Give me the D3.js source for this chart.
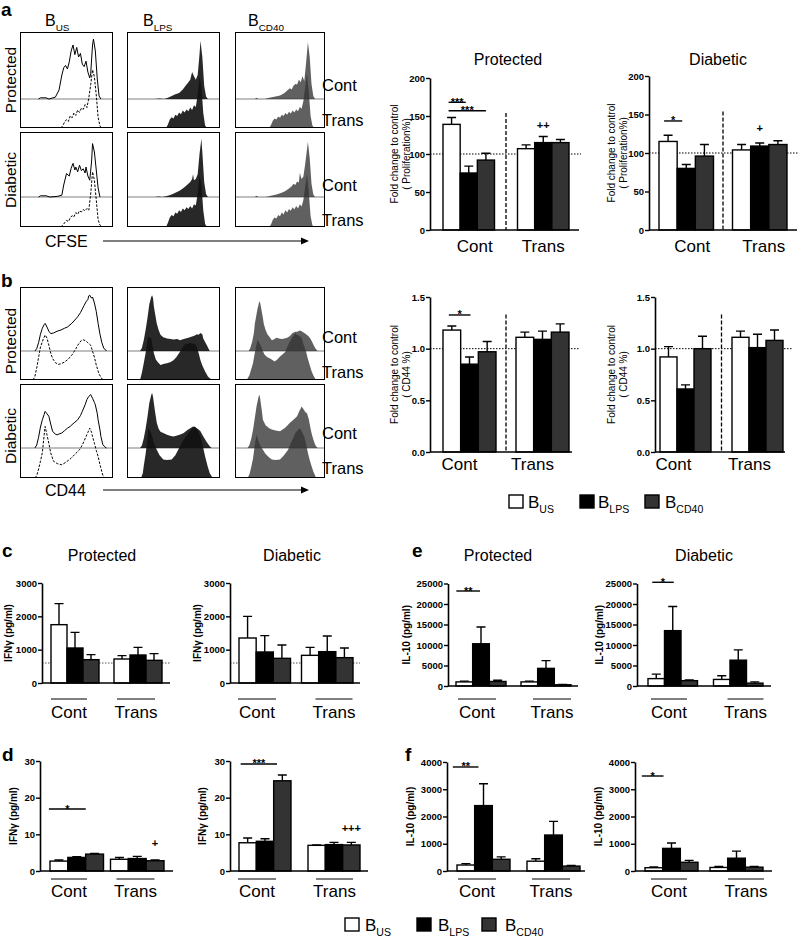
<!DOCTYPE html>
<html lang="en">
<head>
<meta charset="UTF-8">
<title>B cell proliferation, CD44 and cytokines</title>
<script src="https://cdnjs.cloudflare.com/ajax/libs/d3/7.8.5/d3.min.js"></script>
<style>
  body { margin: 0; background: #fff; }
  svg { font-family: "Liberation Sans", Arial, sans-serif; }
</style>
</head>
<body>
<svg id="fig" width="798" height="938"></svg>
<script>
// ---- categories ----
const groups = ["Cont", "Trans"];
const cells = ["US", "LPS", "CD40"];
const cellColors = ["#ffffff", "#000000", "#333333"];

// ---- bar values (order: Cont US, LPS, CD40, Trans US, LPS, CD40); *Err = top of error bar ----
const prolifProt = [139, 75, 92, 107, 115, 115];
const prolifProtErr = [148, 84, 101, 112, 123, 119];
const prolifDiab = [115, 80, 96, 104, 109, 111];
const prolifDiabErr = [123, 85, 111, 111, 113, 116];
const prolifTicks = [0, 50, 100, 150, 200];

const cd44Prot = [1.18, 0.85, 0.97, 1.11, 1.09, 1.16];
const cd44ProtErr = [1.22, 0.92, 1.07, 1.16, 1.17, 1.24];
const cd44Diab = [0.92, 0.61, 1.00, 1.11, 1.01, 1.08];
const cd44DiabErr = [1.02, 0.65, 1.12, 1.17, 1.14, 1.18];
const cd44Ticks = [0, 0.5, 1.0, 1.5];

const ifnHiProt = [1750, 1050, 700, 720, 840, 680];
const ifnHiProtErr = [2380, 1520, 850, 820, 1070, 880];
const ifnHiDiab = [1350, 930, 740, 830, 940, 760];
const ifnHiDiabErr = [2000, 1420, 1140, 1070, 1410, 1050];
const ifnHiTicks = [0, 1000, 2000, 3000];

const il10HiProt = [1000, 10300, 1100, 1000, 4300, 300];
const il10HiProtErr = [1200, 14400, 1400, 1200, 6200, 400];
const il10HiDiab = [1800, 13500, 1300, 1600, 6300, 700];
const il10HiDiabErr = [2900, 19400, 1500, 2500, 8800, 1000];
const il10HiTicks = [0, 5000, 10000, 15000, 20000, 25000];

const ifnLoProt = [2.7, 3.7, 4.6, 3.2, 3.4, 2.8];
const ifnLoProtErr = [3.0, 3.9, 4.8, 3.7, 4.0, 3.0];
const ifnLoDiab = [7.7, 8.1, 24.6, 7.0, 7.2, 7.1];
const ifnLoDiabErr = [9.0, 8.8, 26.2, 7.1, 7.8, 7.8];
const ifnLoTicks = [0, 10, 20, 30];

const il10LoProt = [220, 2400, 430, 360, 1320, 180];
const il10LoProtErr = [270, 3200, 520, 450, 1820, 200];
const il10LoDiab = [120, 830, 320, 130, 470, 140];
const il10LoDiabErr = [150, 1030, 390, 170, 730, 170];
const il10LoTicks = [0, 1000, 2000, 3000, 4000];

// ---- histogram curves [channel %, count % of mode] ----
const cfseProtUSCont = [[20,0],[22,2],[28,2],[31,0],[38,3],[42,15],[45,40],[47,52],[49,56],[51,50],[53,62],[55,80],[57,90],[59,74],[61,86],[63,70],[65,76],[67,58],[69,54],[71,63],[73,45],[75,35],[76,42],[78,90],[79,100],[81,80],[83,35],[85,5],[87,0]];
const cfseProtUSTrans = [[44,0],[46,4],[48,10],[50,14],[52,11],[54,20],[56,17],[58,25],[60,21],[62,30],[64,26],[66,33],[68,31],[70,39],[72,34],[74,50],[76,72],[78,97],[80,85],[82,55],[84,18],[86,3],[88,0]];
const cfseProtLPSCont = [[30,0],[35,1],[40,0],[44,2],[48,5],[52,8],[56,10],[60,16],[63,22],[66,28],[68,32],[70,45],[72,38],[74,32],[76,40],[78,75],[79,97],[81,70],[83,22],[85,4],[87,0]];
const cfseProtLPSTrans = [[42,0],[44,6],[46,14],[48,18],[50,16],[52,22],[54,20],[56,26],[58,23],[60,29],[62,26],[64,31],[66,28],[68,34],[70,30],[72,38],[74,35],[76,55],[78,85],[80,70],[82,25],[84,4],[86,0]];
const cfseProtCD40Cont = [[22,0],[24,2],[26,0],[33,0],[38,2],[45,4],[50,6],[55,10],[58,14],[61,18],[63,16],[65,22],[67,25],[69,24],[71,32],[73,28],[75,38],[77,30],[79,60],[81,95],[83,70],[85,25],[87,5],[89,0]];
const cfseProtCD40Trans = [[38,0],[40,5],[42,12],[44,16],[46,14],[48,19],[50,17],[52,22],[54,20],[56,25],[58,22],[60,27],[62,24],[64,29],[66,26],[68,31],[70,28],[72,35],[74,32],[76,45],[78,68],[80,90],[82,60],[84,20],[86,4],[88,0]];

const cfseDiabUSCont = [[20,0],[22,2],[28,2],[32,0],[40,1],[45,3],[47,20],[50,39],[53,35],[55,48],[57,56],[59,45],[60,50],[62,42],[64,53],[66,44],[68,47],[70,40],[71,50],[73,35],[75,28],[77,60],[78,89],[80,75],[82,45],[84,15],[86,0]];
const cfseDiabUSTrans = [[44,0],[47,5],[50,11],[52,9],[54,15],[56,19],[58,17],[60,24],[62,21],[64,27],[66,25],[68,29],[70,27],[72,31],[74,28],[76,55],[78,92],[80,78],[82,45],[84,12],[86,3],[88,0]];
const cfseDiabLPSCont = [[30,0],[34,1],[38,0],[44,2],[48,4],[52,7],[56,10],[60,14],[63,18],[66,22],[68,25],[70,30],[71,38],[72,28],[74,30],[76,38],[78,72],[80,97],[81,75],[83,25],[85,5],[87,0]];
const cfseDiabLPSTrans = [[42,0],[44,7],[46,16],[48,20],[50,18],[52,24],[54,22],[56,28],[58,25],[60,31],[62,28],[64,33],[66,30],[68,35],[70,31],[72,38],[74,36],[76,56],[78,85],[80,72],[82,28],[84,5],[86,0]];
const cfseDiabCD40Cont = [[22,0],[24,2],[26,0],[34,0],[40,2],[46,4],[52,7],[56,10],[60,14],[63,18],[65,22],[67,20],[69,26],[71,24],[72,40],[74,30],[76,34],[78,55],[81,92],[83,65],[85,22],[87,4],[89,0]];
const cfseDiabCD40Trans = [[38,0],[40,4],[42,12],[44,16],[46,14],[48,20],[50,18],[52,24],[54,21],[56,28],[58,24],[60,30],[62,27],[64,33],[66,29],[68,35],[70,31],[72,38],[74,34],[76,45],[78,68],[80,88],[82,58],[84,18],[86,3],[88,0]];

const cd44ProtUSCont = [[16,0],[18,4],[20,14],[22,28],[24,38],[26,44],[27,46],[29,40],[31,33],[33,29],[36,30],[40,33],[44,35],[48,38],[51,40],[55,45],[58,50],[62,57],[65,64],[67,70],[69,76],[71,82],[73,86],[74,92],[75,93],[77,88],[78,90],[80,80],[82,66],[84,46],[86,28],[88,14],[90,5],[93,0]];
const cd44ProtUSTrans = [[14,0],[16,6],[18,20],[20,38],[22,55],[25,68],[27,75],[29,70],[31,58],[33,45],[35,36],[38,29],[41,26],[44,27],[48,30],[52,35],[56,42],[60,52],[63,60],[66,66],[68,67],[71,65],[73,62],[76,58],[78,48],[80,38],[82,25],[85,10],[88,2],[90,0]];
const cd44ProtLPSCont = [[14,0],[16,5],[18,18],[20,35],[22,55],[24,78],[26,90],[27,93],[28,88],[29,73],[31,55],[32,46],[34,35],[36,27],[39,23],[43,21],[47,20],[50,19],[54,20],[57,18],[61,20],[66,22],[70,24],[73,26],[75,28],[77,27],[79,30],[81,28],[82,21],[84,15],[86,9],[88,3],[89,0]];
const cd44ProtLPSTrans = [[14,0],[16,12],[18,28],[20,45],[22,65],[23,72],[25,70],[26,69],[27,60],[29,44],[31,34],[33,30],[36,25],[40,27],[43,28],[47,30],[50,33],[53,38],[57,47],[60,55],[63,61],[66,60],[68,62],[71,60],[73,61],[75,55],[77,45],[79,33],[81,24],[84,14],[87,6],[89,3],[92,0]];
const cd44ProtCD40Cont = [[15,0],[17,5],[19,15],[21,30],[22,45],[24,62],[25,70],[27,83],[28,80],[29,72],[31,55],[32,45],[34,35],[36,28],[39,22],[41,18],[44,20],[46,22],[49,21],[52,20],[55,21],[58,22],[61,25],[64,30],[67,32],[69,32],[72,34],[74,33],[77,30],[79,28],[82,24],[84,20],[86,14],[88,8],[90,3],[92,0]];
const cd44ProtCD40Trans = [[13,0],[16,8],[18,18],[20,28],[22,45],[24,60],[25,67],[27,62],[29,56],[31,48],[33,42],[36,38],[39,36],[42,33],[44,31],[47,34],[50,39],[53,43],[56,47],[58,55],[61,64],[64,72],[67,78],[68,76],[70,75],[72,73],[74,70],[76,60],[79,47],[81,35],[83,25],[85,15],[87,8],[90,0]];

const cd44DiabUSCont = [[16,0],[18,5],[20,18],[22,35],[24,47],[26,56],[27,61],[29,57],[31,53],[33,40],[35,28],[38,23],[40,22],[43,24],[45,25],[48,29],[51,33],[54,36],[56,39],[59,43],[62,47],[65,54],[67,61],[70,72],[72,81],[74,86],[76,89],[78,83],[80,76],[81,72],[83,58],[84,47],[86,30],[87,19],[89,6],[91,2],[93,0]];
const cd44DiabUSTrans = [[16,0],[18,4],[20,15],[22,28],[24,42],[26,72],[27,86],[29,72],[31,58],[33,42],[36,28],[40,24],[45,22],[50,27],[55,33],[60,41],[64,47],[67,55],[71,69],[73,76],[75,83],[77,76],[78,69],[80,58],[82,46],[84,36],[86,22],[89,5],[91,0]];
const cd44DiabLPSCont = [[14,0],[16,4],[18,16],[20,32],[22,52],[24,75],[26,88],[27,92],[28,85],[30,62],[32,42],[34,32],[36,27],[39,25],[43,22],[47,20],[50,19],[54,21],[58,23],[61,25],[65,30],[68,33],[71,36],[73,35],[75,33],[77,31],[79,28],[81,22],[84,14],[86,9],[89,3],[91,0]];
const cd44DiabLPSTrans = [[15,0],[17,8],[18,20],[20,40],[22,65],[23,83],[25,78],[27,69],[29,58],[32,47],[35,38],[39,31],[43,30],[48,31],[52,38],[57,53],[61,64],[66,75],[70,82],[73,86],[76,80],[79,69],[82,50],[84,36],[87,18],[89,8],[91,3],[93,0]];
const cd44DiabCD40Cont = [[14,0],[16,5],[18,15],[20,30],[22,50],[24,70],[26,84],[27,89],[28,82],[30,60],[31,47],[34,38],[38,33],[41,31],[45,29],[50,28],[55,33],[58,37],[61,42],[64,46],[67,50],[69,53],[71,60],[73,66],[74,69],[76,65],[78,60],[80,58],[82,48],[84,32],[85,25],[87,14],[89,6],[90,3],[92,0]];
const cd44DiabCD40Trans = [[14,0],[16,6],[18,18],[20,32],[22,55],[24,72],[26,62],[28,54],[31,47],[34,40],[38,34],[41,31],[45,30],[50,31],[54,37],[59,47],[62,58],[65,68],[67,75],[70,80],[72,83],[74,78],[77,69],[79,56],[81,42],[83,30],[85,20],[87,11],[89,4],[90,0]];

const svg = d3.select("#fig");
let clipN = 0;

function text(x, y, s, size, opts = {}) {
  return svg.append("text").attr("x", x).attr("y", y).attr("font-size", size)
    .attr("font-weight", opts.bold ? "bold" : "normal")
    .attr("text-anchor", opts.anchor || "start").text(s);
}

function bSub(x, y, sub, size) {
  const t = svg.append("text").attr("x", x).attr("y", y).attr("font-size", size);
  t.append("tspan").text("B");
  t.append("tspan").attr("font-size", size * 0.62).attr("dy", size * 0.3).text(sub);
}

function vtext(x, cy, s, size, bold) {
  svg.append("text").attr("transform", `translate(${x},${cy}) rotate(-90)`)
    .attr("text-anchor", "middle").attr("dominant-baseline", "central")
    .attr("font-size", size).attr("font-weight", bold ? "bold" : "normal").text(s);
}

// ---- flow histograms ----
const histCols = [20, 127, 235];
const histW = [93, 93, 90];

function drawHist(col, top, bottom, base, cont, trans, kind) {
  const x0 = histCols[col], w = histW[col];
  const id = "clip" + (clipN++);
  svg.append("clipPath").attr("id", id).append("rect")
    .attr("x", x0).attr("y", top).attr("width", w).attr("height", bottom - top);
  const x = d3.scaleLinear().domain([0, 100]).range([x0, x0 + w]);
  const yc = d3.scaleLinear().domain([0, 100]).range([base, base - 60]);
  const yt = d3.scaleLinear().domain([0, 100]).range([bottom, bottom - 60]);
  const g = svg.append("g").attr("clip-path", `url(#${id})`);
  g.append("line").attr("x1", x0).attr("x2", x0 + w).attr("y1", base).attr("y2", base)
    .attr("stroke", "#808080").attr("stroke-width", 1.2);
  if (kind) {
    g.append("path").datum(cont)
      .attr("d", d3.area().x(d => x(d[0])).y0(base).y1(d => yc(d[1])))
      .attr("fill", kind.fill).attr("fill-opacity", kind.op);
    g.append("path").datum(trans)
      .attr("d", d3.area().x(d => x(d[0])).y0(bottom).y1(d => yt(d[1])))
      .attr("fill", kind.fill).attr("fill-opacity", kind.op);
  } else {
    g.append("path").datum(cont)
      .attr("d", d3.line().x(d => x(d[0])).y(d => yc(d[1])))
      .attr("fill", "none").attr("stroke", "#000").attr("stroke-width", 1);
    g.append("path").datum(trans)
      .attr("d", d3.line().x(d => x(d[0])).y(d => yt(d[1])))
      .attr("fill", "none").attr("stroke", "#000").attr("stroke-width", 1)
      .attr("stroke-dasharray", "2.5,1.5");
  }
  svg.append("rect").attr("x", x0 + 0.5).attr("y", top + 0.5).attr("width", w - 1).attr("height", bottom - top - 1)
    .attr("fill", "none").attr("stroke", "#000").attr("stroke-width", 1);
}

const lpsFill = { fill: "#111", op: 0.9 };
const cd40Fill = { fill: "#333", op: 0.78 };

// panel a histograms (CFSE)
drawHist(0, 32, 128, 99, cfseProtUSCont, cfseProtUSTrans, null);
drawHist(1, 32, 128, 99, cfseProtLPSCont, cfseProtLPSTrans, lpsFill);
drawHist(2, 32, 128, 99, cfseProtCD40Cont, cfseProtCD40Trans, cd40Fill);
drawHist(0, 132, 227, 197, cfseDiabUSCont, cfseDiabUSTrans, null);
drawHist(1, 132, 227, 197, cfseDiabLPSCont, cfseDiabLPSTrans, lpsFill);
drawHist(2, 132, 227, 197, cfseDiabCD40Cont, cfseDiabCD40Trans, cd40Fill);

// panel b histograms (CD44)
drawHist(0, 287, 380, 351, cd44ProtUSCont, cd44ProtUSTrans, null);
drawHist(1, 287, 380, 351, cd44ProtLPSCont, cd44ProtLPSTrans, lpsFill);
drawHist(2, 287, 380, 351, cd44ProtCD40Cont, cd44ProtCD40Trans, cd40Fill);
drawHist(0, 384, 478, 448, cd44DiabUSCont, cd44DiabUSTrans, null);
drawHist(1, 384, 478, 448, cd44DiabLPSCont, cd44DiabLPSTrans, lpsFill);
drawHist(2, 384, 478, 448, cd44DiabCD40Cont, cd44DiabCD40Trans, cd40Fill);

// histogram labels
text(1, 16, "a", 19, { bold: true });
text(1, 287, "b", 19, { bold: true });
bSub(45, 26, "US", 16);
bSub(143, 26, "LPS", 16);
bSub(248, 26, "CD40", 16);
vtext(10, 80, "Protected", 15.5);
vtext(10, 180, "Diabetic", 15.5);
vtext(10, 341, "Protected", 15.5);
vtext(10, 436, "Diabetic", 15.5);
[[91, 126], [191, 226], [343, 378], [439, 474]].forEach(([c, t]) => {
  text(322, c, "Cont", 16.5);
  text(322, t, "Trans", 16.5);
});
[[247, 241, "CFSE"], [496, 490, "CD44"]].forEach(([ty, ay, s]) => {
  text(45, ty, s, 16);
  svg.append("line").attr("x1", 103).attr("x2", 303).attr("y1", ay).attr("y2", ay)
    .attr("stroke", "#000").attr("stroke-width", 1.2);
  svg.append("path").attr("d", `M309,${ay}L301,${ay - 3.5}L301,${ay + 3.5}Z`).attr("fill", "#000");
});

// ---- bar charts ----
function barChart(c) {
  const y = d3.scaleLinear().domain([0, c.max]).range([c.y0, c.yTop]);
  const W = c.x2 - c.x1;
  const gx = d3.scaleBand().domain(groups).range([c.x1, c.x2]).paddingInner(2 * c.gap / (W + c.gap));
  const bx = d3.scaleBand().domain(cells).range([0, gx.bandwidth()]);
  const data = c.mean.map((v, i) => ({ grp: groups[Math.floor(i / 3)], cell: cells[i % 3], v, e: c.err[i] }));
  const xOf = d => gx(d.grp) + bx(d.cell);
  const mid = i => xOf(data[i]) + bx.bandwidth() / 2;
  const g = svg.append("g");

  if (c.ref != null) {
    g.append("line").attr("x1", c.ax).attr("x2", c.refEnd).attr("y1", y(c.ref)).attr("y2", y(c.ref))
      .attr("stroke", c.refColor || "#000").attr("stroke-width", 1).attr("stroke-dasharray", "1.5,1.5");
  }
  if (c.div != null) {
    const dx = (gx("Cont") + gx.bandwidth() + gx("Trans")) / 2;
    g.append("line").attr("x1", dx).attr("x2", dx).attr("y1", y(c.div)).attr("y2", c.y0)
      .attr("stroke", "#000").attr("stroke-width", 1.3).attr("stroke-dasharray", "4,2");
  }
  g.selectAll(".err").data(data).join("path")
    .attr("d", d => {
      const cx = xOf(d) + bx.bandwidth() / 2;
      return `M${cx},${y(d.v)}V${y(d.e)}M${cx - 4.5},${y(d.e)}H${cx + 4.5}`;
    })
    .attr("stroke", "#000").attr("stroke-width", 1.4).attr("fill", "none");
  g.selectAll(".bar").data(data).join("rect")
    .attr("x", xOf).attr("y", d => y(d.v))
    .attr("width", bx.bandwidth()).attr("height", d => c.y0 - y(d.v))
    .attr("fill", d => cellColors[cells.indexOf(d.cell)])
    .attr("stroke", "#000").attr("stroke-width", 1.4);

  const axis = g.append("g").attr("transform", `translate(${c.ax},0)`)
    .call(d3.axisLeft(y).tickValues(c.ticks).tickFormat(c.fmt).tickSize(4).tickSizeOuter(0).tickPadding(1));
  axis.select(".domain").attr("stroke-width", 1.6);
  axis.selectAll(".tick line").attr("stroke-width", 1.4);
  axis.selectAll(".tick text").attr("font-size", 9.5).attr("font-weight", "bold")
    .attr("font-family", "Liberation Sans, Arial, sans-serif").attr("fill", "#000");
  g.append("line").attr("x1", c.ax).attr("x2", c.axEnd).attr("y1", c.y0).attr("y2", c.y0)
    .attr("stroke", "#000").attr("stroke-width", 1.6);

  // group labels
  groups.forEach((grp, i) => {
    if (c.under) {
      const x1 = gx(grp) + c.under[i][0], x2 = x1 + c.under[i][1];
      g.append("line").attr("x1", x1).attr("x2", x2).attr("y1", c.underY).attr("y2", c.underY)
        .attr("stroke", "#000").attr("stroke-width", 1.2);
      g.append("text").attr("x", (x1 + x2) / 2).attr("y", c.labY).attr("text-anchor", "middle")
        .attr("font-size", 17).text(grp);
    } else {
      g.append("text").attr("x", gx(grp) + gx.bandwidth() / 2 + c.labDx[i]).attr("y", c.labY)
        .attr("text-anchor", "middle").attr("font-size", 17).text(grp);
    }
  });

  // significance
  (c.sig || []).forEach(([i, j, val, lab, d1, d2]) => {
    const x1 = mid(i) + d1, x2 = mid(j) + d2;
    g.append("line").attr("x1", x1).attr("x2", x2).attr("y1", y(val)).attr("y2", y(val))
      .attr("stroke", "#000").attr("stroke-width", 1.4);
    g.append("text").attr("x", (x1 + x2) / 2).attr("y", y(val) + 3.5).attr("text-anchor", "middle")
      .attr("font-size", 11).attr("font-weight", "bold").text(lab);
  });
  (c.plus || []).forEach(([i, val, lab]) => {
    g.append("text").attr("x", mid(i)).attr("y", y(val) + 4).attr("text-anchor", "middle")
      .attr("font-size", 11).attr("font-weight", "bold").text(lab);
  });

  // axis title
  const cy = (c.y0 + c.yTop) / 2;
  c.ylab.forEach((s, k) => vtext(c.ylabX[k], cy, s, c.ylabSize || 10, c.ylabBold));
  if (c.title) text(c.titleX, c.titleY, c.title, 16, { anchor: "middle" });
}

const fmtInt = d3.format("d");
const fmt1 = d3.format(".1f");
const foldLab = t => ["Fold change to control", t];

const charts = [
  { mean: prolifProt, err: prolifProtErr, ticks: prolifTicks, fmt: fmtInt, max: 200,
    ax: 430, y0: 230, yTop: 78, x1: 443, x2: 569, gap: 23, axEnd: 579, ref: 100, refEnd: 581, div: 154,
    title: "Protected", titleX: 508, titleY: 65, ylab: foldLab("( Proliferation%)"), ylabX: [394, 406],
    labY: 252, labDx: [6, 0], sig: [[0, 1, 168, "***", -3, -3], [0, 2, 157, "***", -3, 0]], plus: [[4, 138, "++"]] },
  { mean: prolifDiab, err: prolifDiabErr, ticks: prolifTicks, fmt: fmtInt, max: 200,
    ax: 649, y0: 230, yTop: 76, x1: 659, x2: 787, gap: 19, axEnd: 797, ref: 100, refEnd: 798, div: 154,
    title: "Diabetic", titleX: 718, titleY: 65, ylab: foldLab("( Proliferation%)"), ylabX: [611, 623],
    labY: 252, labDx: [6, 4], sig: [[0, 1, 141.6, "*", -4, -4]], plus: [[4, 133, "+"]] },
  { mean: cd44Prot, err: cd44ProtErr, ticks: cd44Ticks, fmt: fmt1, max: 1.5,
    ax: 430, y0: 452, yTop: 297, x1: 443, x2: 569, gap: 20, axEnd: 572, ref: 1, refEnd: 579, div: 1.33,
    ylab: foldLab("( CD44 %)"), ylabX: [394, 406], labY: 470, labDx: [-10, -10],
    sig: [[0, 1, 1.326, "*", -3, 1]] },
  { mean: cd44Diab, err: cd44DiabErr, ticks: cd44Ticks, fmt: fmt1, max: 1.5,
    ax: 655, y0: 452, yTop: 297, x1: 660, x2: 783, gap: 21, axEnd: 785, ref: 1, refEnd: 793, div: 1.33,
    ylab: foldLab("( CD44 %)"), ylabX: [611, 623], labY: 470, labDx: [-12, -8] },
  { mean: ifnHiProt, err: ifnHiProtErr, ticks: ifnHiTicks, fmt: fmtInt, max: 3000,
    ax: 42, y0: 683, yTop: 583, x1: 51, x2: 162, gap: 15, axEnd: 170, ref: 600, refEnd: 170, refColor: "#555",
    title: "Protected", titleX: 102, titleY: 561, ylab: ["IFNγ (pg/ml)"], ylabX: [8], ylabBold: true,
    under: [[0, 36], [3, 38]], underY: 699, labY: 718 },
  { mean: ifnHiDiab, err: ifnHiDiabErr, ticks: ifnHiTicks, fmt: fmtInt, max: 3000,
    ax: 230, y0: 683, yTop: 583, x1: 239, x2: 353, gap: 11, axEnd: 360, ref: 600, refEnd: 360, refColor: "#555",
    title: "Diabetic", titleX: 292, titleY: 561, ylab: ["IFNγ (pg/ml)"], ylabX: [197], ylabBold: true,
    under: [[-1, 38], [14, 37]], underY: 699, labY: 718 },
  { mean: il10HiProt, err: il10HiProtErr, ticks: il10HiTicks, fmt: fmtInt, max: 25000,
    ax: 448, y0: 686, yTop: 583.5, x1: 456, x2: 571, gap: 15, axEnd: 578,
    title: "Protected", titleX: 498, titleY: 561, ylab: ["IL-10 (pg/ml)"], ylabX: [406], ylabBold: true,
    under: [[2, 38], [12, 38]], underY: 699, labY: 718, sig: [[0, 1, 23170, "**", -8, -1]] },
  { mean: il10HiDiab, err: il10HiDiabErr, ticks: il10HiTicks, fmt: fmtInt, max: 25000,
    ax: 637, y0: 686, yTop: 583.5, x1: 648, x2: 763, gap: 16, axEnd: 771,
    title: "Diabetic", titleX: 704, titleY: 561, ylab: ["IL-10 (pg/ml)"], ylabX: [599], ylabBold: true,
    under: [[3, 36], [14, 36]], underY: 699, labY: 718, sig: [[0, 1, 25300, "*", -4, 1]] },
  { mean: ifnLoProt, err: ifnLoProtErr, ticks: ifnLoTicks, fmt: fmtInt, max: 30,
    ax: 40, y0: 871, yTop: 761, x1: 50, x2: 164, gap: 7, axEnd: 173,
    ylab: ["IFNγ (pg/ml)"], ylabX: [13], ylabBold: true,
    under: [[1, 36], [6, 38]], underY: 879, labY: 897, sig: [[0, 1, 16.9, "*", -10, 9]], plus: [[5, 7.6, "+"]] },
  { mean: ifnLoDiab, err: ifnLoDiabErr, ticks: ifnLoTicks, fmt: fmtInt, max: 30,
    ax: 230, y0: 871, yTop: 761, x1: 239, x2: 360, gap: 17, axEnd: 368,
    ylab: ["IFNγ (pg/ml)"], ylabX: [202], ylabBold: true,
    under: [[-1, 38], [8, 37]], underY: 879, labY: 897, sig: [[0, 1, 29.2, "***", -7, 12]], plus: [[5, 11.7, "+++"]] },
  { mean: il10LoProt, err: il10LoProtErr, ticks: il10LoTicks, fmt: fmtInt, max: 4000,
    ax: 447, y0: 871, yTop: 762, x1: 457, x2: 580, gap: 17, axEnd: 585,
    ylab: ["IL-10 (pg/ml)"], ylabX: [410], ylabBold: true,
    under: [[1, 38], [5, 38]], underY: 879, labY: 897, sig: [[0, 1, 3817, "**", -13, -5]] },
  { mean: il10LoDiab, err: il10LoDiabErr, ticks: il10LoTicks, fmt: fmtInt, max: 4000,
    ax: 635, y0: 871, yTop: 762, x1: 645, x2: 763, gap: 12, axEnd: 772,
    ylab: ["IL-10 (pg/ml)"], ylabX: [598], ylabBold: true,
    under: [[6, 36], [18, 36]], underY: 879, labY: 897, sig: [[0, 1, 3486, "*", -12, -8]] }
];
charts.forEach(barChart);

// panel letters
text(2, 557, "c", 19, { bold: true });
text(412, 557, "e", 19, { bold: true });
text(2, 761, "d", 19, { bold: true });
text(405, 761, "f", 19, { bold: true });

// legends
function legend(xs, sqY, ty) {
  cells.forEach((c, i) => {
    svg.append("rect").attr("x", xs[i][0]).attr("y", sqY).attr("width", 14).attr("height", 13)
      .attr("fill", cellColors[i]).attr("stroke", "#000").attr("stroke-width", 1.4);
    bSub(xs[i][1], ty, c, 17);
  });
}
legend([[509, 528], [580, 598], [645, 665]], 495, 508);
legend([[345, 365], [417, 438], [482, 505]], 918, 931);
</script>
</body>
</html>
